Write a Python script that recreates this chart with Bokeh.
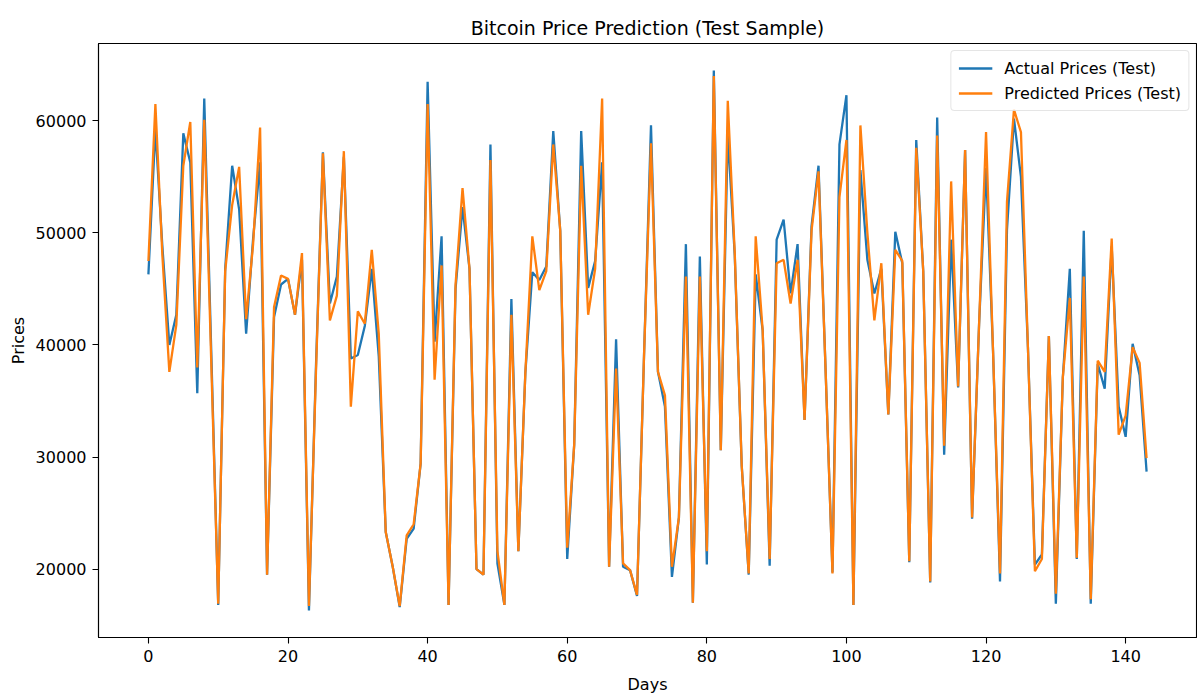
from bokeh.plotting import figure
from bokeh.models import ColumnDataSource, FixedTicker, Range1d, BasicTickFormatter
from bokeh.embed import file_html
from bokeh.resources import INLINE

actual_prices = [
    46300, 59300, 48800, 40000, 42700, 58900, 56300, 35700, 62000, 39500,
    16800, 46800, 56000, 52100, 41000, 49500, 56300, 19500, 42500, 45400,
    45900, 42700, 47600, 16300, 38000, 57200, 43700, 46100, 56800, 38800,
    39100, 41700, 46800, 39000, 23300, 20200, 16600, 22700, 23600, 29400,
    63500, 40300, 49700, 16800, 45000, 52300, 46800, 20000, 19500, 57900,
    20500, 16800, 44100, 21600, 37500, 46500, 45800, 47000, 59100, 50200,
    20900, 31100, 59100, 45100, 47500, 56300, 20200, 40500, 20200, 19900,
    17600, 39000, 59600, 37600, 34500, 19300, 24600, 49000, 17000, 47900,
    20400, 64500, 30600, 58900, 48000, 29200, 19500, 46300, 41300, 20300,
    49400, 51200, 44600, 49000, 33300, 50600, 56000, 38000, 19700, 57900,
    62300, 16800, 55600, 47600, 44600, 46800, 33800, 50100, 47300, 20600,
    58300, 46600, 18800, 60300, 30200, 49400, 36200, 57400, 24500, 41800,
    55800, 39500, 18900, 50300, 60200, 55000, 39800, 20400, 21300, 40800,
    16900, 37100, 46800, 20900, 50200, 16900, 38300, 36100, 48800, 34500,
    31800, 40100, 37300, 28700,
]

predicted_prices = [
    47500, 61500, 48000, 37600, 41800, 56000, 59900, 38000, 60100, 38500,
    16900, 46600, 52500, 55900, 42300, 49000, 59400, 19500, 43400, 46200,
    45900, 42700, 48200, 16700, 37500, 57100, 42200, 44400, 57300, 34500,
    43000, 41900, 48500, 41000, 23300, 20200, 16700, 23000, 24000, 29400,
    61500, 36900, 47100, 16800, 45400, 54000, 46800, 20000, 19500, 56500,
    21600, 16800, 42700, 21600, 37500, 49700, 44900, 46600, 57900, 50200,
    21900, 31100, 56000, 42700, 46800, 62000, 20200, 37900, 20500, 19900,
    17700, 39000, 58000, 37600, 35500, 20200, 24600, 46100, 17000, 46100,
    21600, 64000, 30600, 61800, 48200, 29200, 19600, 49700, 41300, 20900,
    47300, 47600, 43700, 47600, 33300, 50200, 55500, 38000, 19600, 53200,
    58300, 16800, 59600, 50000, 42200, 47300, 33800, 48500, 47500, 20700,
    57600, 46600, 18900, 58700, 31000, 54600, 36300, 57400, 24600, 41800,
    59000, 39500, 19600, 52800, 61000, 59000, 39800, 19800, 20900, 40800,
    17800, 37100, 44200, 21000, 46100, 17300, 38600, 37600, 49500, 32000,
    33700, 39800, 38400, 29900,
]

days = list(range(len(actual_prices)))

x_ticks = [0, 20, 40, 60, 80, 100, 120, 140]
y_ticks = [20000, 30000, 40000, 50000, 60000]

FONT = "DejaVu Sans"

# matplotlib-like 5% margins
xmin, xmax = min(days), max(days)
xpad = (xmax - xmin) * 0.05
allv = actual_prices + predicted_prices
ymin, ymax = min(allv), max(allv)
ypad = (ymax - ymin) * 0.05

src = ColumnDataSource(dict(days=days, actual=actual_prices, predicted=predicted_prices))

p = figure(
    width=1197, height=698,
    output_backend="svg", toolbar_location=None,
    x_range=Range1d(xmin - xpad, xmax + xpad),
    y_range=Range1d(ymin - ypad, ymax + ypad),
    min_border_left=98, min_border_right=1,
    min_border_top=43, min_border_bottom=61,
)

p.line("days", "actual", source=src, line_color="#1f77b4", line_width=2.3,
       legend_label="Actual Prices (Test)")
p.line("days", "predicted", source=src, line_color="#ff7f0e", line_width=2.3,
       legend_label="Predicted Prices (Test)")

p.title.text = "Bitcoin Price Prediction (Test Sample)"
p.title.align = "center"
p.title.text_font = FONT
p.title.text_font_size = "19px"
p.title.text_font_style = "normal"
p.title.text_color = "black"
p.title.standoff = 10

p.xgrid.visible = False
p.ygrid.visible = False
p.outline_line_color = "black"
p.outline_line_width = 1.1
p.background_fill_color = "white"
p.border_fill_color = "white"

p.xaxis.ticker = FixedTicker(ticks=x_ticks)
p.yaxis.ticker = FixedTicker(ticks=y_ticks)
p.yaxis.formatter = BasicTickFormatter(use_scientific=False)
p.xaxis.axis_label = "Days"
p.yaxis.axis_label = "Prices"

for ax in (p.xaxis, p.yaxis):
    ax.axis_line_color = "black"
    ax.axis_line_width = 1.1
    ax.major_tick_line_color = "black"
    ax.major_tick_line_width = 1.1
    ax.major_tick_in = 0
    ax.major_tick_out = 6
    ax.minor_tick_line_color = None
    ax.major_label_text_font = FONT
    ax.major_label_text_font_size = "16px"
    ax.major_label_text_color = "black"
    ax.axis_label_text_font = FONT
    ax.axis_label_text_font_size = "16px"
    ax.axis_label_text_font_style = "normal"
    ax.axis_label_text_color = "black"
    ax.major_label_standoff = 6

p.xaxis.axis_label_standoff = 10
p.yaxis.axis_label_standoff = 5

lg = p.legend[0]
lg.location = "top_right"
lg.margin = 7
lg.padding = 7
lg.spacing = 5
lg.glyph_width = 34
lg.glyph_height = 20
lg.label_height = 20
lg.label_standoff = 12
lg.label_text_font = FONT
lg.label_text_font_size = "16px"
lg.label_text_color = "black"
lg.border_line_color = "#cccccc"
lg.border_line_width = 1
lg.background_fill_color = "white"
lg.background_fill_alpha = 0.8
if "border_radius" in lg.properties():
    lg.border_radius = 4

open("out.html", "w").write(file_html(p, INLINE))
